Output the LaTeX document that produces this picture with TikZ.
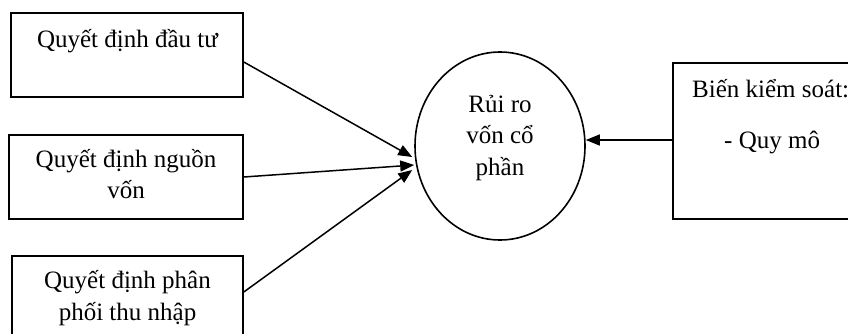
\documentclass[tikz,border=0pt]{standalone}
\usepackage{fontspec}
\setmainfont{Liberation Serif}
\usetikzlibrary{shapes.geometric,arrows.meta,calc}
\begin{document}
\begin{tikzpicture}[x=1pt,y=1pt,
  box/.style={draw,line width=1.6pt,rectangle,inner sep=0pt},
  txt/.style={inner sep=0pt,anchor=base,font=\fontsize{25}{31.5}\selectfont},
  conn/.style={line width=1.5pt,-{Triangle[length=14pt,width=11pt]}}]
\clip (0,0) rectangle (848,333);
% boxes
\node[box,minimum width=232,minimum height=84] (b1) at (127,278) {};
\node[box,minimum width=234,minimum height=84] (b2) at (126,156) {};
\node[box,minimum width=231,minimum height=84] (b3) at (127.5,35) {};
\node[draw,line width=1.6pt,ellipse,minimum width=170,minimum height=188,inner sep=0pt] (el) at (500,187) {};
\node[box,minimum width=197,minimum height=156] (rb) at (771.5,192) {};
% texts
\node[txt] (t1) at (127.5,286) {Quyết định đầu tư};
\node[txt] (t2a) at (126,166) {Quyết định nguồn};
\node[txt] (t2b) at (126,135) {vốn};
\node[txt] (t3a) at (127.5,45) {Quyết định phân};
\node[txt] (t3b) at (127.5,13) {phối thu nhập};
\node[txt] (e1) at (500,221) {Rủi ro};
\node[txt] (e2) at (500,190) {vốn cổ};
\node[txt] (e3) at (500,158) {phần};
\node[txt,anchor=base west] (r1) at (692,236) {Biến kiểm soát:};
\node[txt,anchor=base west] (r2) at (724,185) {- Quy mô};
% connectors
\coordinate (s1) at ($(b1.east)+(0,-7)$);
\coordinate (s3) at ($(b3.east)+(0,6)$);
\coordinate (p1) at ($(el.west)+(-2,-11)$);
\coordinate (p2) at ($(el.west)+(0,-19)$);
\coordinate (p3) at ($(el.west)+(-2,-24)$);
\coordinate (p4) at ($(el.east)+(0,6)$);
\coordinate (s4) at ($(rb.west)+(0,1)$);
\draw[conn] (s1) -- (p1);
\draw[conn] (b2.east) -- (p2);
\draw[conn] (s3) -- (p3);
\draw[conn] (s4) -- (p4);
\end{tikzpicture}
\end{document}
